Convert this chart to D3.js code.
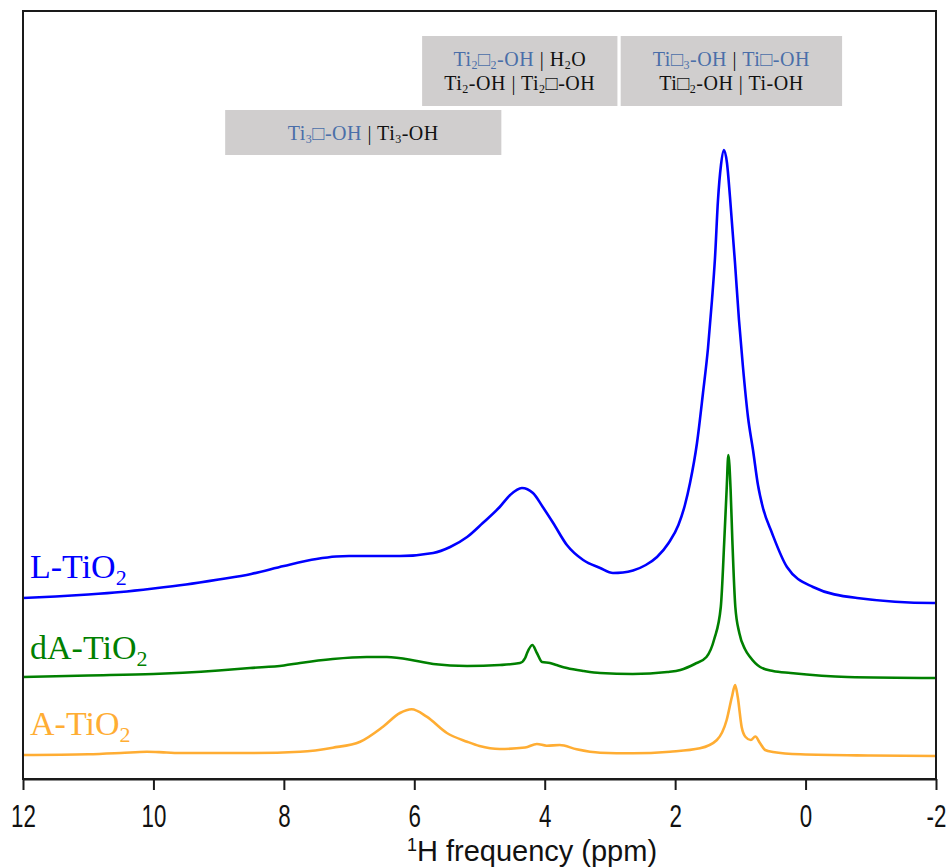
<!DOCTYPE html>
<html>
<head>
<meta charset="utf-8">
<script src="https://cdn.jsdelivr.net/npm/d3@7"></script>
<style>
  html, body { margin: 0; padding: 0; background: #fff; }
  svg { display: block; }
</style>
</head>
<body>
<svg id="chart" width="952" height="867"></svg>
<script>
// ---------------- DATA ----------------
const tickValues = [12, 10, 8, 6, 4, 2, 0, -2];
const xLabel = "frequency (ppm)";

// L-TiO2 (blue)
const lPpm = [12, 11.5, 11, 10.5, 10, 9.5, 9, 8.5, 8, 7.5, 7.2, 7, 6.5, 6.22, 5.71, 5.45, 5.19, 4.95, 4.69, 4.53, 4.35, 4.18, 4.03, 3.87, 3.66, 3.41, 3.15, 2.953, 2.8, 2.646, 2.45, 2.278, 2.1, 1.95, 1.85, 1.772, 1.665, 1.573, 1.496, 1.435, 1.389, 1.343, 1.297, 1.251, 1.205, 1.159, 1.082, 1.021, 0.960, 0.883, 0.806, 0.730, 0.653, 0.515, 0.285, -0.114, -0.789, -1.954, -2];
const lInt = [181, 182.5, 184.5, 187, 190.5, 194.5, 199.5, 205, 213, 220, 222.5, 223, 223, 223, 226, 232, 242, 256, 272, 284, 291, 286, 272, 256, 234, 219, 211, 206, 206.5, 208.5, 214, 222, 236, 254, 274, 296, 336, 386, 431, 479, 521, 579, 614, 629, 616, 582, 516, 459, 412, 362, 329, 294, 271, 246, 212, 192, 181, 176, 176];

// dA-TiO2 (green)
const dPpm = [12, 11, 10, 9.55, 9, 8.52, 8, 7.75, 7.25, 6.73, 6.42, 5.96, 5.71, 5.19, 4.69, 4.38, 4.30, 4.27, 4.19, 4.12, 4.04, 3.92, 3.82, 3.66, 3.4, 3.15, 2.65, 2.12, 1.92, 1.70, 1.52, 1.40, 1.30, 1.246, 1.21, 1.184, 1.15, 1.123, 1.077, 1.016, 0.93, 0.851, 0.697, 0.5, 0.23, -0.64, -2];
const dInt = [102, 103.5, 105, 106.3, 108.5, 111, 113.5, 116, 120, 122, 122, 118, 115, 113, 114, 116, 121, 126, 134, 126, 117, 116, 114, 111, 108, 106, 105, 107, 109, 115, 122, 140, 172, 239, 290, 324, 290, 239, 172, 146, 130, 122, 112, 108, 106, 102, 101];

// A-TiO2 (orange)
const aPpm = [12, 11, 10.5, 10.1, 9.8, 9.55, 8.52, 7.75, 7.25, 6.83, 6.48, 6.22, 6.04, 5.81, 5.5, 5.19, 5.0, 4.69, 4.3, 4.12, 3.97, 3.77, 3.51, 3.15, 2.65, 2.08, 1.62, 1.36, 1.21, 1.13, 1.08, 1.04, 0.98, 0.92, 0.84, 0.77, 0.70, 0.62, 0.50, 0.08, -1, -2];
const aInt = [24, 24.7, 26, 27.3, 26.5, 26, 26, 27.3, 31.3, 37.3, 52.3, 66, 69.7, 62.3, 46, 37.3, 33, 30, 31.5, 35, 33.3, 34, 29.7, 26.3, 25.7, 27.3, 30.7, 39, 59, 82, 94, 82, 52, 42, 39, 42.5, 36, 29, 27, 24.7, 23.5, 23];

const seriesNames = ["L-TiO", "dA-TiO", "A-TiO"];
const seriesColors = ["#0000ff", "#008000", "#ffad33"];

// Annotation boxes: ppm range and rows of text segments [text, colorKey, isSub]
const boxRanges = [[5.88, 2.885], [2.835, -0.56], [8.90, 4.665]];
const boxLines = [
  [
    [["Ti","b"],["2","b",1],["□","b"],["2","b",1],["-OH","b"],[" | ","k"],["H","k"],["2","k",1],["O","k"]],
    [["Ti","k"],["2","k",1],["-OH | Ti","k"],["2","k",1],["□-OH","k"]]
  ],
  [
    [["Ti□","b"],["3","b",1],["-OH","b"],[" | ","k"],["Ti□-OH","b"]],
    [["Ti□","k"],["2","k",1],["-OH | Ti-OH","k"]]
  ],
  [
    [["Ti","b"],["3","b",1],["□-OH","b"],[" | Ti","k"],["3","k",1],["-OH","k"]]
  ]
];

// ---------------- DRAW ----------------
const svg = d3.select("#chart");
const plotLeft = 23, plotRight = 936, plotTop = 11, plotBottom = 779;

const x = d3.scaleLinear().domain([12, -2]).range([plotLeft, plotRight]);
const y = d3.scaleLinear().domain([0, 768]).range([plotBottom, plotTop]);

const colorMap = { b: "#4a6ea9", k: "#111" };

// annotation boxes
const boxTops = [36, 36, 110];
const boxHeights = [70, 70, 45];
boxRanges.forEach((r, i) => {
  const x0 = x(r[0]), x1 = x(r[1]);
  svg.append("rect")
    .attr("x", x0).attr("y", boxTops[i])
    .attr("width", x1 - x0).attr("height", boxHeights[i])
    .attr("fill", "#d0cece");
  const lines = boxLines[i];
  lines.forEach((segs, li) => {
    const baseY = lines.length === 1 ? boxTops[i] + 30 : boxTops[i] + 30 + li * 24;
    const t = svg.append("text")
      .attr("x", (x0 + x1) / 2).attr("y", baseY)
      .attr("text-anchor", "middle")
      .attr("font-family", "'Liberation Serif', 'DejaVu Serif', serif")
      .attr("font-size", 20)
      .attr("letter-spacing", 0.5);
    let shifted = false;
    segs.forEach(s => {
      const sp = t.append("tspan").text(s[0]).attr("fill", colorMap[s[1]]);
      if (s[2]) {
        sp.attr("font-size", 12).attr("dy", shifted ? 0 : 3);
        shifted = true;
      } else if (shifted) {
        sp.attr("dy", -3);
        shifted = false;
      }
    });
  });
});

// spectra
const line = d3.line()
  .x(d => x(d[0]))
  .y(d => y(d[1]))
  .curve(d3.curveMonotoneX);

const seriesData = [
  d3.zip(lPpm, lInt),
  d3.zip(dPpm, dInt),
  d3.zip(aPpm, aInt)
];

seriesData.forEach((data, i) => {
  svg.append("path")
    .datum(data.slice().sort((a, b) => b[0] - a[0]))
    .attr("fill", "none")
    .attr("stroke", seriesColors[i])
    .attr("stroke-width", 2.6)
    .attr("stroke-linejoin", "round")
    .attr("d", line);
});

// series labels
const labelY = [578, 659, 735];
seriesNames.forEach((name, i) => {
  const t = svg.append("text")
    .attr("x", 30).attr("y", labelY[i])
    .attr("font-family", "'Liberation Serif', 'DejaVu Serif', serif")
    .attr("font-size", 34)
    .attr("fill", seriesColors[i]);
  t.append("tspan").text(name);
  t.append("tspan").text("2").attr("font-size", 22).attr("dy", 7);
});

// frame
svg.append("rect")
  .attr("x", plotLeft).attr("y", plotTop)
  .attr("width", plotRight - plotLeft).attr("height", plotBottom - plotTop)
  .attr("fill", "none")
  .attr("stroke", "#1a1a1a")
  .attr("stroke-width", 2);

// x axis
const axis = d3.axisBottom(x)
  .tickValues(tickValues)
  .tickFormat(d => String(d))
  .tickSize(11)
  .tickSizeOuter(0)
  .tickPadding(15);

const gAxis = svg.append("g")
  .attr("transform", `translate(0,${plotBottom})`)
  .call(axis);
gAxis.select(".domain").attr("stroke", "#1a1a1a").attr("stroke-width", 2);
gAxis.selectAll(".tick line").attr("stroke", "#1a1a1a").attr("stroke-width", 2);
gAxis.selectAll(".tick text")
  .attr("fill", "#111")
  .attr("font-family", "'Liberation Sans', Arial, sans-serif")
  .attr("font-size", 31)
  .attr("transform", "scale(0.72,1)");

// x label
const xl = svg.append("text")
  .attr("x", 532).attr("y", 861)
  .attr("text-anchor", "middle")
  .attr("font-family", "'Liberation Sans', Arial, sans-serif")
  .attr("font-size", 29)
  .attr("fill", "#111");
xl.append("tspan").text("1").attr("font-size", 18).attr("dy", -10);
xl.append("tspan").text("H " + xLabel).attr("dy", 10);
</script>
</body>
</html>
